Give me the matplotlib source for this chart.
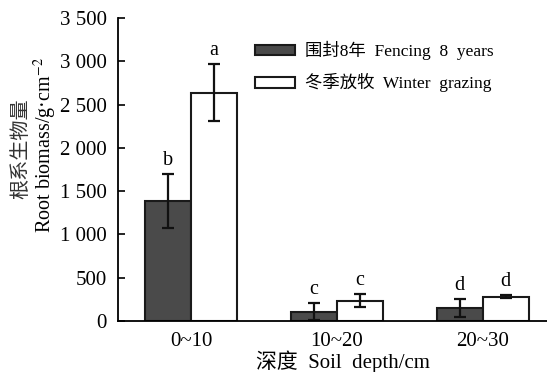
import numpy as np
import matplotlib.pyplot as plt
from matplotlib.ticker import FuncFormatter

plt.rcParams['font.family'] = ['Liberation Serif', 'Noto Sans CJK SC']
plt.rcParams['mathtext.fontset'] = 'stix'

depths = ['0~10', '10~20', '20~30']
fencing = [1390, 110, 150]
fencing_err = [310, 95, 105]
grazing = [2635, 235, 280]
grazing_err = [330, 75, 15]
fencing_letters = ['b', 'c', 'd']
grazing_letters = ['a', 'c', 'd']

x = np.arange(len(depths))
width = 0.315

fig = plt.figure(figsize=(5.47, 3.72), dpi=100)
ax = fig.add_axes([0.2157, 0.137, 0.7843, 0.8146])

err_kw = dict(ecolor='#111111', elinewidth=1.6, capsize=4, capthick=1.6)
b1 = ax.bar(x - width / 2, fencing, width, yerr=fencing_err, color='#4a4a4a',
            edgecolor='#1a1a1a', linewidth=1.5, error_kw=err_kw,
            label='围封8年  Fencing  8  years')
b2 = ax.bar(x + width / 2, grazing, width, yerr=grazing_err, color='white',
            edgecolor='#1a1a1a', linewidth=1.5, error_kw=err_kw,
            label='冬季放牧  Winter  grazing')

for xi, v, e, t in zip(x - width / 2, fencing, fencing_err, fencing_letters):
    ax.annotate(t, (xi, v + e), xytext=(0, 3), textcoords='offset points',
                ha='center', va='bottom', fontsize=14.5)
for xi, v, e, t in zip(x + width / 2, grazing, grazing_err, grazing_letters):
    ax.annotate(t, (xi, v + e), xytext=(0, 3), textcoords='offset points',
                ha='center', va='bottom', fontsize=14.5)

ax.set_xlim(-0.5, 2.44)
ax.set_ylim(0, 3500)
ax.set_yticks(np.arange(0, 3501, 500))
ax.yaxis.set_major_formatter(FuncFormatter(lambda v, p: f'{int(v):,}'.replace(',', ' ')))
ax.set_xticks(x)
ax.set_xticklabels(depths)
ax.tick_params(axis='y', direction='in', length=5, width=1.2, labelsize=15, pad=8)
ax.tick_params(axis='x', length=0, labelsize=15, pad=8)
for s in ['top', 'right']:
    ax.spines[s].set_visible(False)
ax.spines['left'].set_linewidth(1.3)
ax.spines['bottom'].set_linewidth(1.3)

fig.text(0.040, 0.60, '根系生物量', rotation=90, ha='center', va='center', fontsize=14.5, color='#333333')
fig.text(0.083, 0.61, 'Root biomass/g·cm$^{-2}$', rotation=90, ha='center', va='center', fontsize=14.5)
fig.text(0.627, -0.003, '深度  Soil  depth/cm', ha='center', va='bottom', fontsize=15)

ax.legend(loc='upper left', bbox_to_anchor=(0.283, 0.975), frameon=False, fontsize=12.5,
          handlelength=2.3, handleheight=0.55, labelspacing=0.75, handletextpad=0.6)

fig.savefig('out.png', dpi=100)
